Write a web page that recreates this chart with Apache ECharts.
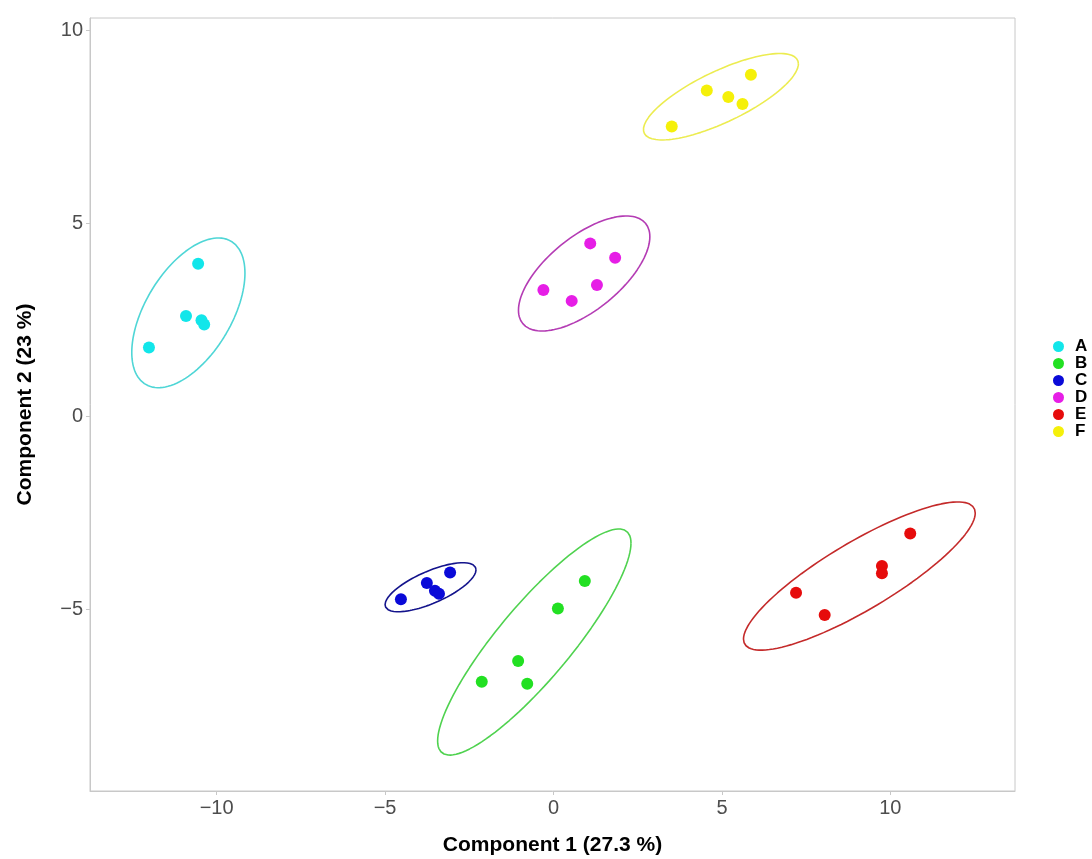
<!DOCTYPE html>
<html>
<head>
<meta charset="utf-8">
<script src="https://cdn.jsdelivr.net/npm/echarts@6/dist/echarts.min.js"></script>
<style>
  html, body { margin: 0; padding: 0; background: #fff; }
  #chart { width: 1092px; height: 859px; }
</style>
</head>
<body>
<div id="chart"></div>
<script>
// groups and colours
const groups = ["A", "B", "C", "D", "E", "F"];
const pointColors = ["#12e6ea", "#22e022", "#0a0ad8", "#e61ee6", "#e60c0c", "#f5f00a"];
const ellipseColors = ["#4fd6d6", "#4fd24f", "#14148c", "#b43cb4", "#c42a2a", "#ecec50"];

// scores: [component 1, component 2]
const pointsA = [[-10.55, 3.95], [-10.91, 2.60], [-10.45, 2.49], [-10.37, 2.38], [-12.01, 1.78]];
const pointsB = [[0.93, -4.27], [0.13, -4.98], [-1.05, -6.34], [-2.13, -6.88], [-0.78, -6.93]];
const pointsC = [[-4.53, -4.74], [-3.76, -4.32], [-3.52, -4.52], [-3.40, -4.60], [-3.07, -4.05]];
const pointsD = [[1.09, 4.48], [1.83, 4.11], [1.29, 3.40], [-0.30, 3.27], [0.54, 2.99]];
const pointsE = [[10.59, -3.04], [9.75, -3.88], [9.75, -4.07], [7.20, -4.57], [8.05, -5.15]];
const pointsF = [[5.86, 8.85], [4.55, 8.44], [5.19, 8.27], [5.61, 8.09], [3.51, 7.51]];
const groupPoints = [pointsA, pointsB, pointsC, pointsD, pointsE, pointsF];

// ellipses: [centre x, centre y, half width, half height, cos of phase (tilt)]
const ellipseA = [-10.84, 2.68, 1.68, 1.94, 0.53];
const ellipseB = [-0.57, -5.85, 2.87, 2.93, 0.875];
const ellipseC = [-3.65, -4.43, 1.35, 0.635, 0.71];
const ellipseD = [0.91, 3.70, 1.95, 1.49, 0.64];
const ellipseE = [9.08, -4.14, 3.44, 1.92, 0.85];
const ellipseF = [4.97, 8.28, 2.30, 1.12, 0.76];
const groupEllipses = [ellipseA, ellipseB, ellipseC, ellipseD, ellipseE, ellipseF];

const xTicks = [-10, -5, 0, 5, 10];
const yTicks = [-5, 0, 5, 10];

function ellipseOutline(e) {
  const [cx, cy, rx, ry, c] = e;
  const phi = Math.acos(c);
  const out = [];
  for (let i = 0; i <= 120; i++) {
    const t = (i / 120) * 2 * Math.PI;
    out.push([cx + rx * Math.cos(t), cy + ry * Math.cos(t - phi)]);
  }
  return out;
}

const fmt = (v) => String(v).replace("-", "\u2212");
const grey = "#c8c8c8";
const tickText = "#4d4d4d";

const series = [];
groups.forEach((g, i) => {
  series.push({
    name: g + " ellipse",
    type: "line",
    data: ellipseOutline(groupEllipses[i]),
    showSymbol: false,
    smooth: false,
    lineStyle: { color: ellipseColors[i], width: 1.6 },
    silent: true,
    z: 2,
  });
});
groups.forEach((g, i) => {
  series.push({
    name: g,
    type: "scatter",
    data: groupPoints[i],
    symbolSize: 12,
    itemStyle: { color: pointColors[i], opacity: 1 },
    z: 5,
  });
});

const chart = echarts.init(document.getElementById("chart"));
chart.setOption({
  animation: false,
  textStyle: { fontFamily: "Liberation Sans, Arial, sans-serif" },
  grid: {
    left: 90, right: 77, top: 18, bottom: 68,
    outerBoundsMode: "none",
    show: true, borderColor: grey, borderWidth: 1,
  },
  legend: {
    data: groups,
    orient: "vertical",
    left: 1048,
    top: 333,
    itemWidth: 11,
    itemHeight: 11,
    itemGap: 0,
    icon: "circle",
    textStyle: { fontSize: 17, lineHeight: 15.6, fontWeight: "bold", color: "#000", padding: [0, 0, 0, 6] },
  },
  xAxis: {
    type: "value",
    min: -13.76,
    max: 13.7,
    name: "Component 1 (27.3 %)",
    nameLocation: "middle",
    nameGap: 44,
    nameTextStyle: { fontSize: 21, fontWeight: "bold", color: "#000" },
    axisLine: { show: true, onZero: false, lineStyle: { color: grey } },
    axisTick: { show: true, length: 4, customValues: xTicks, lineStyle: { color: grey } },
    axisLabel: { customValues: xTicks, formatter: fmt, fontSize: 20, color: tickText, margin: 7 },
    splitLine: { show: false },
  },
  yAxis: {
    type: "value",
    min: -9.71,
    max: 10.32,
    name: "Component 2 (23 %)",
    nameLocation: "middle",
    nameGap: 54,
    nameTextStyle: { fontSize: 21, fontWeight: "bold", color: "#000" },
    axisLine: { show: true, onZero: false, lineStyle: { color: grey } },
    axisTick: { show: true, length: 4, customValues: yTicks, lineStyle: { color: grey } },
    axisLabel: { customValues: yTicks, formatter: fmt, fontSize: 20, color: tickText, margin: 7 },
    splitLine: { show: false },
  },
  series,
});
</script>
</body>
</html>
